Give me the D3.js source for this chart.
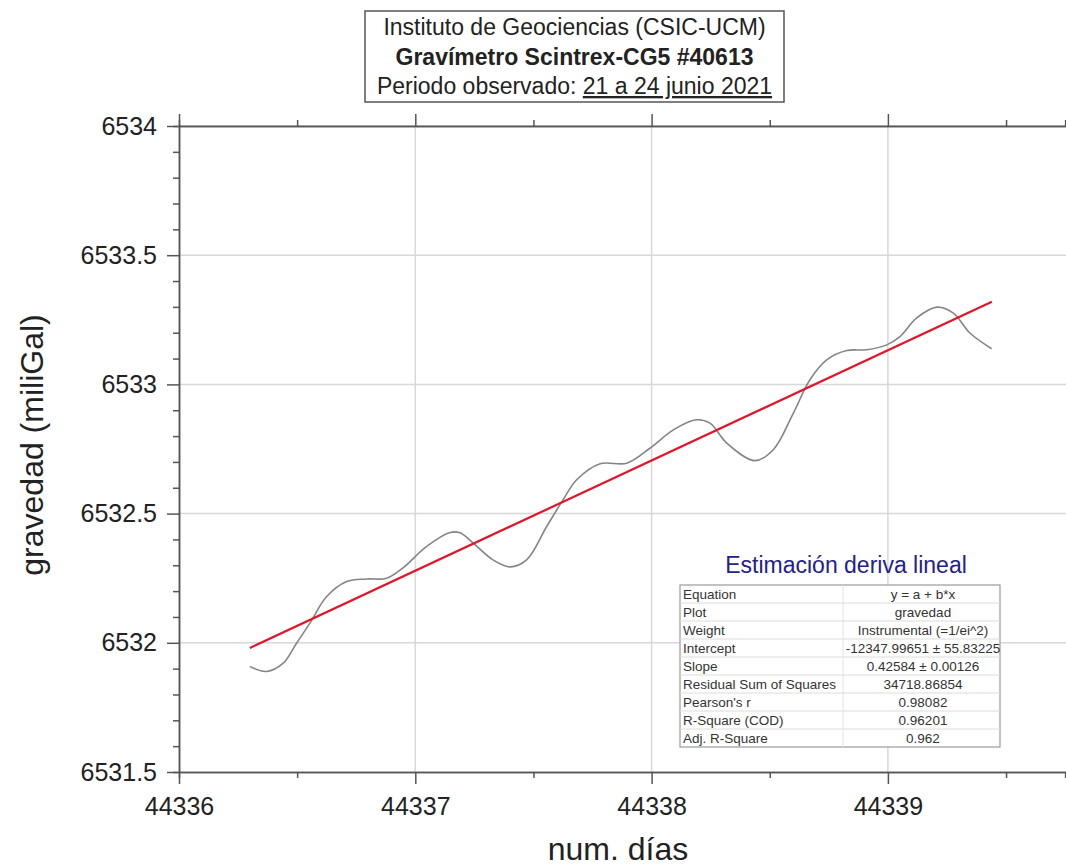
<!DOCTYPE html>
<meta charset="utf-8">

<!-- Load d3.js -->
<script src="https://d3js.org/d3.v7.min.js"></script>

<style>
body { margin: 0; background: #fff; }
text { font-family: "Liberation Sans", Arial, sans-serif; }
.tickText { font-size: 25px; fill: #222; }
.axisTitle { font-size: 32px; fill: #222; }
.boxTitle { font-size: 23px; fill: #222; }
.tableText { font-size: 13.5px; fill: #333; }
</style>

<div id="my_dataviz"></div>

<script>

// data
const days = [44336.300, 44336.371, 44336.441, 44336.498, 44336.554, 44336.625, 44336.710,
  44336.794, 44336.879, 44336.948, 44337.048, 44337.147, 44337.189, 44337.244, 44337.329,
  44337.401, 44337.471, 44337.556, 44337.625, 44337.683, 44337.782, 44337.895, 44337.993,
  44338.092, 44338.191, 44338.247, 44338.318, 44338.438, 44338.515, 44338.600, 44338.670,
  44338.741, 44338.826, 44338.910, 44338.995, 44339.051, 44339.122, 44339.207, 44339.277,
  44339.347, 44339.439];
const gravedad = [6531.908, 6531.889, 6531.921, 6531.999, 6532.076, 6532.179, 6532.237,
  6532.247, 6532.250, 6532.290, 6532.373, 6532.427, 6532.426, 6532.387, 6532.321,
  6532.294, 6532.321, 6532.450, 6532.553, 6532.631, 6532.693, 6532.695, 6532.753,
  6532.824, 6532.863, 6532.850, 6532.773, 6532.705, 6532.747, 6532.889, 6533.018,
  6533.095, 6533.131, 6533.134, 6533.153, 6533.185, 6533.257, 6533.299, 6533.276,
  6533.199, 6533.138];

// linear fit end points
const fitDays = [44336.30, 44339.44];
const fitGravedad = [6531.98, 6533.32];

const xTicks = [44336, 44337, 44338, 44339];
const xMinor = [44336.5, 44337.5, 44338.5, 44339.5];
const yTicks = [6531.5, 6532, 6532.5, 6533, 6533.5, 6534];
const yMinor = d3.range(65315, 65340, 1).map(d => d / 10).filter(d => !yTicks.includes(d));

const tableLabels = ["Equation", "Plot", "Weight", "Intercept", "Slope",
  "Residual Sum of Squares", "Pearson's r", "R-Square (COD)", "Adj. R-Square"];
const tableValues = ["y = a + b*x", "gravedad", "Instrumental (=1/ei^2)",
  "-12347.99651 \u00b1 55.83225", "0.42584 \u00b1 0.00126", "34718.86854",
  "0.98082", "0.96201", "0.962"];

// set the dimensions of the graph
const W = 1066, H = 868;
const plotLeft = 179, plotTop = 126, plotBottom = 772;

const svg = d3.select("#my_dataviz")
  .append("svg")
    .attr("width", W)
    .attr("height", H);

const x = d3.scaleLinear()
  .domain([44336, 44339.75])
  .range([plotLeft, plotLeft + 3.75 * 236.3]);

const y = d3.scaleLinear()
  .domain([6531.5, 6534])
  .range([plotBottom, plotTop]);

// grid
svg.append("g")
  .selectAll("line")
  .data(xTicks.slice(1))
  .join("line")
    .attr("x1", d => x(d)).attr("x2", d => x(d))
    .attr("y1", plotTop).attr("y2", plotBottom)
    .attr("stroke", "#d8d8d8").attr("stroke-width", 1.5);
svg.append("g")
  .selectAll("line")
  .data(yTicks.slice(1))
  .join("line")
    .attr("x1", plotLeft).attr("x2", W)
    .attr("y1", d => y(d)).attr("y2", d => y(d))
    .attr("stroke", "#d8d8d8").attr("stroke-width", 1.5);

// axes
function styleAxis(g) {
  g.select(".domain").attr("stroke", "#555").attr("stroke-width", 1.5);
  g.selectAll(".tick line").attr("stroke", "#555").attr("stroke-width", 1.5);
}

svg.append("g")
  .attr("transform", `translate(0, ${plotBottom})`)
  .call(d3.axisBottom(x).tickValues(xMinor).tickSize(6).tickFormat(""))
  .call(styleAxis);
svg.append("g")
  .attr("transform", `translate(0, ${plotBottom})`)
  .call(d3.axisBottom(x).tickValues(xTicks).tickSize(12).tickSizeOuter(0).tickPadding(13).tickFormat(d3.format("d")))
  .call(styleAxis)
  .call(g => g.attr("font-size", null).attr("font-family", null))
  .selectAll("text")
    .attr("class", "tickText");

svg.append("g")
  .attr("transform", `translate(0, ${plotTop})`)
  .call(d3.axisTop(x).tickValues(xMinor).tickSize(6).tickFormat(""))
  .call(styleAxis);
svg.append("g")
  .attr("transform", `translate(0, ${plotTop})`)
  .call(d3.axisTop(x).tickValues(xTicks).tickSize(12).tickSizeOuter(0).tickFormat(""))
  .call(styleAxis);

svg.append("g")
  .attr("transform", `translate(${plotLeft}, 0)`)
  .call(d3.axisLeft(y).tickValues(yMinor).tickSize(6).tickFormat(""))
  .call(styleAxis);
svg.append("g")
  .attr("transform", `translate(${plotLeft}, 0)`)
  .call(d3.axisLeft(y).tickValues(yTicks).tickSize(12).tickSizeOuter(0).tickPadding(10).tickFormat(d => String(d)))
  .call(styleAxis)
  .call(g => g.attr("font-size", null).attr("font-family", null))
  .selectAll("text")
    .attr("class", "tickText");

// axis titles
svg.append("text")
  .attr("class", "axisTitle")
  .attr("text-anchor", "middle")
  .attr("x", 618)
  .attr("y", 860)
  .text("num. días");

svg.append("text")
  .attr("class", "axisTitle")
  .attr("text-anchor", "middle")
  .attr("font-size", 33)
  .attr("transform", "translate(43, 445) rotate(-90)")
  .text("gravedad (miliGal)");

// curve
const line = d3.line()
  .x(d => x(d[0]))
  .y(d => y(d[1]))
  .curve(d3.curveCatmullRom.alpha(0.5));

svg.append("path")
  .datum(days.map((d, i) => [d, gravedad[i]]))
  .attr("d", line)
  .attr("fill", "none")
  .attr("stroke", "#858585")
  .attr("stroke-width", 1.6);

svg.append("path")
  .datum(fitDays.map((d, i) => [d, fitGravedad[i]]))
  .attr("d", d3.line().x(d => x(d[0])).y(d => y(d[1])))
  .attr("fill", "none")
  .attr("stroke", "#e3142a")
  .attr("stroke-width", 2.2);

// title box
const tb = svg.append("g");
tb.append("rect")
  .attr("x", 365).attr("y", 11)
  .attr("width", 419).attr("height", 91)
  .attr("fill", "#fff")
  .attr("stroke", "#555").attr("stroke-width", 1.5);
tb.append("text").attr("class", "boxTitle").attr("text-anchor", "middle")
  .attr("x", 574.5).attr("y", 35)
  .text("Instituto de Geociencias (CSIC-UCM)");
tb.append("text").attr("class", "boxTitle").attr("text-anchor", "middle")
  .attr("x", 574.5).attr("y", 65)
  .attr("font-weight", "bold")
  .text("Gravímetro Scintrex-CG5 #40613");
const l3 = tb.append("text").attr("class", "boxTitle").attr("text-anchor", "middle")
  .attr("x", 574.5).attr("y", 94);
l3.append("tspan").text("Periodo observado: ");
l3.append("tspan").style("text-decoration", "underline").text("21 a 24 junio 2021");

// fit table
const tx = 680, ty = 585, tw = 320, rh = 18, colX = 843;
const tg = svg.append("g");
tg.append("text")
  .attr("text-anchor", "middle")
  .attr("x", 846).attr("y", 573)
  .attr("font-size", 23)
  .attr("fill", "#22228a")
  .text("Estimación deriva lineal");

tg.append("rect")
  .attr("x", tx).attr("y", ty)
  .attr("width", tw).attr("height", rh * tableLabels.length)
  .attr("fill", "#fff")
  .attr("stroke", "#9a9a9a").attr("stroke-width", 1.2);

tg.selectAll("line")
  .data(d3.range(1, tableLabels.length))
  .join("line")
    .attr("x1", tx).attr("x2", tx + tw)
    .attr("y1", d => ty + d * rh).attr("y2", d => ty + d * rh)
    .attr("stroke", "#dcdcdc");
tg.append("line")
  .attr("x1", colX).attr("x2", colX)
  .attr("y1", ty).attr("y2", ty + rh * tableLabels.length)
  .attr("stroke", "#e2e2e2");

tg.selectAll("text.lab")
  .data(tableLabels)
  .join("text")
    .attr("class", "tableText lab")
    .attr("x", tx + 3)
    .attr("y", (d, i) => ty + i * rh + 14)
    .text(d => d);
tg.selectAll("text.val")
  .data(tableValues)
  .join("text")
    .attr("class", "tableText val")
    .attr("text-anchor", "middle")
    .attr("x", 923)
    .attr("y", (d, i) => ty + i * rh + 14)
    .text(d => d);

</script>
